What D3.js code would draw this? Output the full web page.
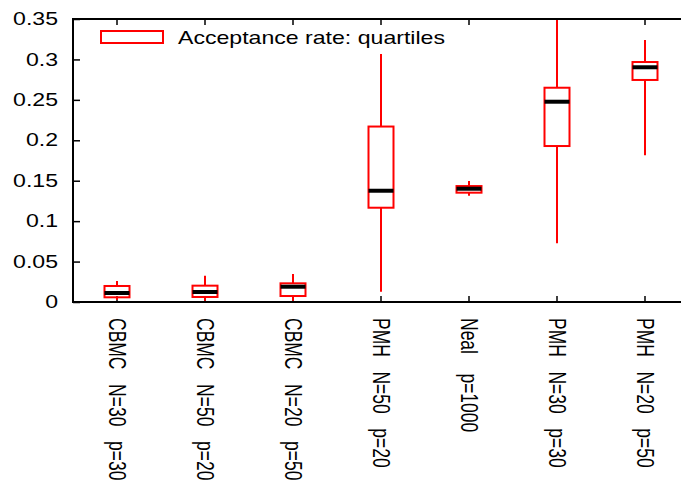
<!DOCTYPE html>
<html>
<head>
<meta charset="utf-8">
<script src="https://cdn.jsdelivr.net/npm/d3@7"></script>
<style>
  html, body { margin: 0; padding: 0; background: #fff; }
  svg { display: block; font-family: "Liberation Sans", Arial, sans-serif; }
</style>
</head>
<body>
<svg id="chart" width="681" height="488"></svg>
<script>
// Sampler configurations along the x axis
const categories = [
  "CBMC   N=30   p=30",
  "CBMC   N=50   p=20",
  "CBMC   N=20   p=50",
  "PMH   N=50   p=20",
  "Neal    p=1000",
  "PMH   N=30   p=30",
  "PMH   N=20   p=50"
];

// Acceptance-rate summaries per configuration
const whiskerLow  = [0.0025, 0.0016, 0.0016, 0.0127, 0.1315, 0.0726, 0.1814];
const quartile1   = [0.0058, 0.0062, 0.0074, 0.1166, 0.1352, 0.1929, 0.2746];
const medians     = [0.0111, 0.0124, 0.0189, 0.1376, 0.1401, 0.2477, 0.2903];
const quartile3   = [0.0198, 0.0202, 0.0231, 0.2170, 0.1434, 0.2650, 0.2968];
const whiskerHigh = [0.0260, 0.0325, 0.0346, 0.3067, 0.1496, 0.3500, 0.3240];

const yTicks = [0, 0.05, 0.1, 0.15, 0.2, 0.25, 0.3, 0.35];
const yTickLabels = ["0", "0.05", "0.1", "0.15", "0.2", "0.25", "0.3", "0.35"];
const legendLabel = "Acceptance rate: quartiles";

const rows = categories.map((c, i) => ({
  cat: c, lo: whiskerLow[i], q1: quartile1[i], med: medians[i], q3: quartile3[i], hi: whiskerHigh[i]
}));

const svg = d3.select("#chart");
const plotLeft = 73, plotRight = 689, plotTop = 19, plotBottom = 302;
const red = "#ff0000";
const fontSize = 17.5;
const stretch = 1.32;   // the terminal's glyphs are wider than they are tall

const x = d3.scaleBand().domain(categories).range([plotLeft, plotRight]).padding(0);
const y = d3.scaleLinear().domain([0, 0.35]).range([plotBottom, plotTop]);
const cx = d => x(d) + x.bandwidth() / 2;
const boxW = 25;

svg.append("defs").append("clipPath").attr("id", "plotClip")
  .append("rect").attr("x", plotLeft).attr("y", plotTop)
  .attr("width", plotRight - plotLeft).attr("height", plotBottom - plotTop);

// Left axis: inward ticks, labels right-aligned
const yAxis = svg.append("g")
  .attr("transform", `translate(${plotLeft},0)`)
  .call(d3.axisLeft(y).tickValues(yTicks).tickFormat((d, i) => yTickLabels[i])
    .tickSizeInner(-7).tickSizeOuter(0).tickPadding(15));
yAxis.select(".domain").remove();
yAxis.selectAll(".tick line").attr("stroke", "#000").attr("stroke-width", 1.5);
yAxis.selectAll(".tick text").attr("font-size", fontSize).attr("fill", "#000")
  .attr("font-family", "Liberation Sans, Arial, sans-serif")
  .attr("x", -15 / stretch)
  .attr("transform", `scale(${stretch},1)`);

// Bottom axis: inward ticks, rotated category labels
const xAxis = svg.append("g")
  .attr("transform", `translate(0,${plotBottom})`)
  .call(d3.axisBottom(x).tickSizeInner(-6).tickSizeOuter(0));
xAxis.select(".domain").remove();
xAxis.selectAll(".tick line").attr("stroke", "#000").attr("stroke-width", 1.5);
xAxis.selectAll(".tick text")
  .attr("font-size", fontSize).attr("fill", "#000")
  .attr("font-family", "Liberation Sans, Arial, sans-serif")
  .attr("text-anchor", "start")
  .attr("transform", `rotate(90) scale(1,${stretch})`)
  .attr("x", 16).attr("y", 0).attr("dy", "0.35em")
  .style("white-space", "pre");

// Top axis mirror ticks
const xTop = svg.append("g")
  .attr("transform", `translate(0,${plotTop})`)
  .call(d3.axisTop(x).tickSizeInner(-6).tickSizeOuter(0).tickFormat(""));
xTop.select(".domain").remove();
xTop.selectAll(".tick line").attr("stroke", "#000").attr("stroke-width", 1.5);

// Boxes
const plot = svg.append("g").attr("clip-path", "url(#plotClip)");
const g = plot.selectAll(".box").data(rows).join("g").attr("class", "box");

g.append("line")
  .attr("x1", d => cx(d.cat)).attr("x2", d => cx(d.cat))
  .attr("y1", d => y(d.hi)).attr("y2", d => y(d.q3))
  .attr("stroke", red).attr("stroke-width", 2);
g.append("line")
  .attr("x1", d => cx(d.cat)).attr("x2", d => cx(d.cat))
  .attr("y1", d => y(d.q1)).attr("y2", d => y(d.lo))
  .attr("stroke", red).attr("stroke-width", 2);
g.append("rect")
  .attr("x", d => cx(d.cat) - boxW / 2).attr("width", boxW)
  .attr("y", d => y(d.q3)).attr("height", d => y(d.q1) - y(d.q3))
  .attr("fill", "none").attr("stroke", red).attr("stroke-width", 2);
g.append("line")
  .attr("x1", d => cx(d.cat) - boxW / 2).attr("x2", d => cx(d.cat) + boxW / 2)
  .attr("y1", d => y(d.med)).attr("y2", d => y(d.med))
  .attr("stroke", "#000").attr("stroke-width", 4);

// Frame
svg.append("rect")
  .attr("x", plotLeft).attr("y", plotTop)
  .attr("width", plotRight - plotLeft).attr("height", plotBottom - plotTop)
  .attr("fill", "none").attr("stroke", "#000").attr("stroke-width", 2);

// Legend
const legend = svg.append("g");
legend.append("rect").attr("x", 101).attr("y", 31).attr("width", 62).attr("height", 12)
  .attr("fill", "none").attr("stroke", red).attr("stroke-width", 2);
legend.append("text")
  .attr("transform", `translate(178,44) scale(${stretch},1)`)
  .attr("font-size", fontSize).attr("fill", "#000").text(legendLabel);
</script>
</body>
</html>
